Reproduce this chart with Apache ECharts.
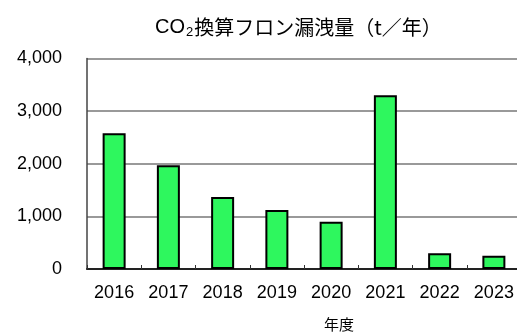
<!DOCTYPE html>
<html>
<head>
<meta charset="utf-8">
<script src="https://cdn.jsdelivr.net/npm/echarts@6/dist/echarts.min.js"></script>
<style>
  html, body { margin: 0; padding: 0; background: #fff; }
  #chart { width: 517px; height: 333px; }
</style>
</head>
<body>
<div id="chart"></div>
<script>
// Fiscal years and CO2-equivalent refrigerant leakage (t per year)
const years = ['2016', '2017', '2018', '2019', '2020', '2021', '2022', '2023'];
const leakage = [2580, 1970, 1370, 1120, 900, 3300, 300, 250];
const yTicks = { min: 0, max: 4000, interval: 1000 };

const chart = echarts.init(document.getElementById('chart'));
const font = '"Liberation Sans", Arial, "Noto Sans CJK JP", sans-serif';
const cjk = '"Noto Sans CJK JP", sans-serif';

chart.setOption({
  animation: false,
  title: {
    text: '{a|CO}{s|2}{b|換算フロン漏洩量（t／年）}',
    left: 150,
    top: 10,
    textStyle: {
      fontWeight: 'normal',
      rich: {
        a: { fontFamily: font, fontSize: 20, fontWeight: 'normal', color: '#000' },
        s: { fontFamily: font, fontSize: 13, fontWeight: 'normal', color: '#000', padding: [11, 1, 0, 1] },
        b: { fontFamily: cjk, fontSize: 20, fontWeight: 'normal', color: '#000' }
      }
    }
  },
  grid: {
    left: 87, right: -4, top: 58.5, bottom: 64,
    containLabel: false, outerBoundsMode: 'none'
  },
  xAxis: {
    type: 'category',
    data: years,
    boundaryGap: true,
    name: '年度',
    nameLocation: 'middle',
    nameGap: 48,
    nameTextStyle: { fontFamily: cjk, fontSize: 15, color: '#000', padding: [0, 0, 0, 70] },
    axisLine: { lineStyle: { color: '#222', width: 2 } },
    axisTick: { show: true, inside: true, length: 4, lineStyle: { color: '#333', width: 1 } },
    axisLabel: { fontFamily: font, fontSize: 18, color: '#000', margin: 15 }
  },
  yAxis: {
    type: 'value',
    min: yTicks.min,
    max: yTicks.max,
    interval: yTicks.interval,
    axisLine: { show: true, lineStyle: { color: '#444', width: 1.5 } },
    axisTick: { show: false },
    splitLine: { lineStyle: { color: '#777', width: 1.5 } },
    axisLabel: {
      fontFamily: font, fontSize: 18, color: '#000', margin: 25,
      formatter: v => v.toLocaleString('en-US')
    }
  },
  series: [{
    type: 'bar',
    data: leakage,
    barWidth: 23,
    itemStyle: { color: '#2ef75e', borderColor: '#000', borderWidth: 2 }
  }]
});
</script>
</body>
</html>
